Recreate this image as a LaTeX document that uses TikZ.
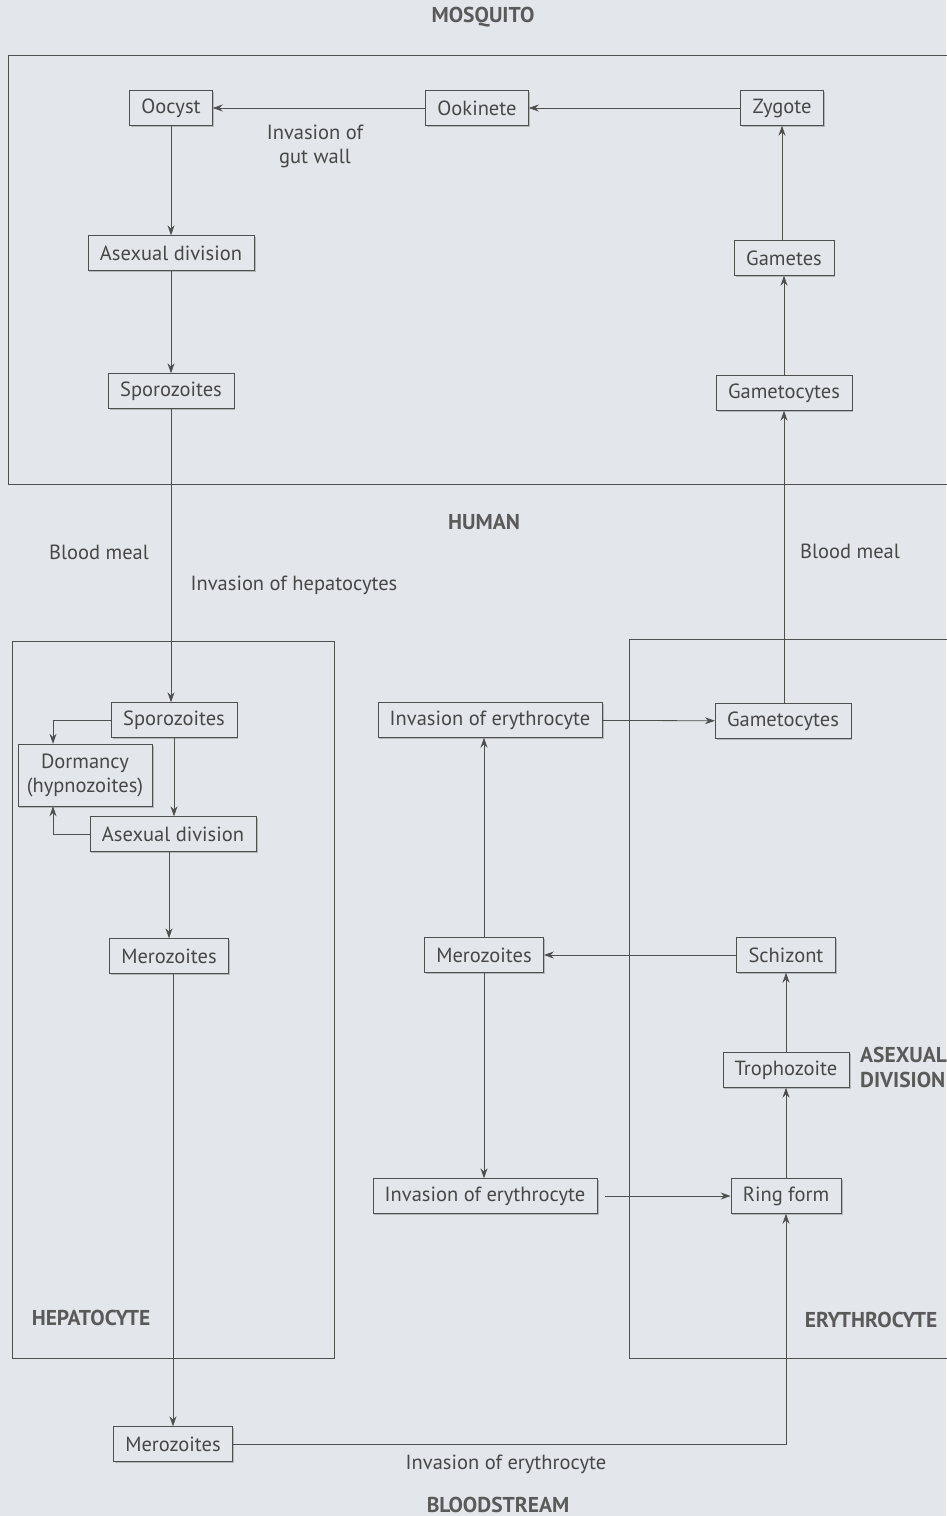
\documentclass[tikz,border=0pt]{standalone}
\usepackage{fontspec}
\setmainfont{PT Sans}
\usetikzlibrary{arrows.meta,shadows}

\definecolor{paper}{HTML}{E3E6EA}
\definecolor{ink}{HTML}{474747}
\definecolor{wire}{HTML}{4F4F4F}

\begin{document}
\begin{tikzpicture}[x=1pt,y=-1pt,
    every node/.style={font=\fontsize{20.5}{24}\selectfont,text=ink},
    stage/.style={draw=wire,fill=paper,inner xsep=12pt,minimum height=35pt,
      drop shadow={shadow xshift=1.5pt,shadow yshift=-1.5pt,fill=black,opacity=0.2}},
    region/.style={font=\fontsize{21.5}{25}\selectfont\bfseries,text=ink!90},
    flow/.style={draw=wire,line width=0.8pt,-{Stealth[length=10pt,width=7pt]}},
    frame/.style={draw=wire,line width=0.9pt}
]

\fill[paper] (0,0) rectangle (946,1516);
\useasboundingbox (0,0) rectangle (946,1516);

% compartments
\draw[frame] (8,55) rectangle (960,484);
\draw[frame] (12,641) rectangle (334,1358);
\draw[frame] (629,639) rectangle (960,1358);

\node[region] (mosq) at (483,17) {MOSQUITO};
\node[region] (human) at (484,522) {HUMAN};
\node[region] (blood) at (498,1505) {BLOODSTREAM};
\node[region] (hepat) at (91,1318) {HEPATOCYTE};
\node[region] (eryth) at (871,1320) {ERYTHROCYTE};
\node[region,align=left,anchor=west,inner sep=0pt] (asex) at (860,1067) {ASEXUAL\\DIVISION};

% mosquito
\node[stage] (oocyst) at (171,108) {Oocyst};
\node[stage] (ookin) at (477,108) {Ookinete};
\node[stage] (zygote) at (782,108) {Zygote};
\node[stage] (mdiv) at (171,253) {Asexual division};
\node[stage] (msporo) at (171,391) {Sporozoites};
\node[stage] (gametes) at (784,258) {Gametes};
\node[stage] (mgam) at (784,393) {Gametocytes};
\node[align=center] (gut) at (315,146) {Invasion of\\gut wall};

\draw[flow] (zygote) -- (ookin);
\draw[flow] (ookin) -- (oocyst);
\draw[flow] (oocyst) -- (mdiv);
\draw[flow] (mdiv) -- (msporo);
\draw[flow] (mgam) -- (gametes);
\draw[flow] (gametes.north -| zygote) -- (zygote);

\node (lmeal) at (99,552) {Blood meal};
\node (rmeal) at (850,551) {Blood meal};
\node (hinv) at (294,585) {Invasion of hepatocytes};

% liver
\node[stage] (lsporo) at (174,720) {Sporozoites};
\node[stage,align=center,inner xsep=9pt,minimum height=62pt] (dorm) at (85,775) {Dormancy\\(hypnozoites)};
\node[stage] (ldiv) at (173,834) {Asexual division};
\node[stage] (lmero) at (169,956) {Merozoites};
\node[stage] (bmero) at (173,1444) {Merozoites};

\draw[flow] (msporo.south) -- (msporo.south |- lsporo.north);
\draw[flow] (lsporo.west) -| ([xshift=-32pt]dorm.north);
\draw[flow] (lsporo) -- (lsporo |- ldiv.north);
\draw[flow] (ldiv.west) -| ([xshift=-32pt]dorm.south);
\draw[flow] (ldiv.south -| lmero) -- (lmero);
\draw[flow] (lmero.south -| bmero) -- (bmero);

% red cell
\node[stage] (inv1) at (490,720) {Invasion of erythrocyte};
\node[stage] (bgam) at (783,721) {Gametocytes};
\node[stage] (emero) at (484,955) {Merozoites};
\node[stage] (schiz) at (786,955) {Schizont};
\node[stage] (troph) at (786,1070) {Trophozoite};
\node[stage] (inv2) at (485,1196) {Invasion of erythrocyte};
\node[stage] (ring) at (786,1196) {Ring form};
\node (einv) at (506,1464) {Invasion of erythrocyte};

\draw[flow] (bmero.east) -| (ring.south);
\draw[flow] (ring) -- (troph);
\draw[flow] (troph) -- (schiz);
\draw[flow] (schiz) -- (emero);
\draw[flow] (emero) -- (emero |- inv1.south);
\draw[flow] (emero) -- (emero |- inv2.north);
\draw[flow] (inv1) -- (bgam);
\draw[flow,shorten <=8pt] (inv2) -- (ring);
\draw[flow] (bgam.north -| mgam) -- (mgam);

\end{tikzpicture}
\end{document}
